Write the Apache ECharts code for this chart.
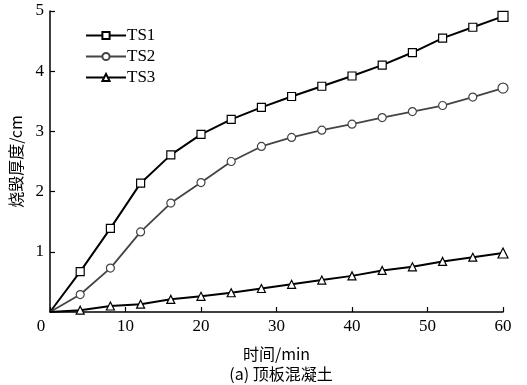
<!DOCTYPE html>
<html>
<head>
<meta charset="utf-8">
<script src="https://cdn.jsdelivr.net/npm/echarts@6/dist/echarts.min.js"></script>
<style>
  html, body { margin: 0; padding: 0; background: #fff; }
  #chart { width: 527px; height: 385px; }
</style>
</head>
<body>
<div id="chart"></div>
<script>
// 时间/min
const times = [0, 4, 8, 12, 16, 20, 24, 28, 32, 36, 40, 44, 48, 52, 56, 60];
// 烧毁厚度/cm
const ts1 = [0, 0.67, 1.39, 2.14, 2.61, 2.95, 3.20, 3.40, 3.58, 3.75, 3.92, 4.10, 4.31, 4.55, 4.73, 4.91];
const ts2 = [0, 0.29, 0.73, 1.33, 1.81, 2.15, 2.50, 2.75, 2.90, 3.02, 3.12, 3.23, 3.33, 3.43, 3.57, 3.72];
const ts3 = [0, 0.03, 0.10, 0.13, 0.21, 0.26, 0.32, 0.39, 0.46, 0.53, 0.60, 0.69, 0.75, 0.84, 0.91, 0.98];
const seriesNames = ['TS1', 'TS2', 'TS3'];

const serif = '"Liberation Serif", "DejaVu Serif", serif';
const cjk = '"Noto Sans CJK SC", "Liberation Serif", serif';

const myChart = echarts.init(document.getElementById('chart'));

const makeSeries = (name, values, symbol, color, width) => ({
  name,
  type: 'line',
  data: times.map((t, i) => [t, values[i]]),
  symbol,
  // 原点不画标记，最后一个点稍大
  symbolSize: (val, params) => {
    if (params.dataIndex === 0) return 0;
    return params.dataIndex === times.length - 1 ? 10 : 8;
  },
  showSymbol: true,
  lineStyle: { color, width },
  itemStyle: { color: '#fff', borderColor: color, borderWidth: 1.2 },
  emphasis: { disabled: true },
  animation: false,
});

const option = {
  backgroundColor: '#fff',
  animation: false,
  grid: { left: 49, right: 24, top: 11, bottom: 73 },
  title: {
    text: '(a) 顶板混凝土',
    left: 276,
    top: 361,
    textAlign: 'center',
    textStyle: { fontFamily: cjk, fontSize: 16, fontWeight: 'normal', color: '#000' },
  },
  legend: {
    orient: 'vertical',
    left: 80,
    top: 22,
    itemWidth: 40,
    itemHeight: 9,
    itemGap: 4,
    data: seriesNames,
    textStyle: { fontFamily: serif, fontSize: 17, color: '#000', padding: [0, 0, 0, -4] },
  },
  xAxis: {
    type: 'value',
    min: 0,
    max: 60,
    interval: 10,
    name: '时间/min',
    nameLocation: 'middle',
    nameGap: 34,
    nameTextStyle: { fontFamily: cjk, fontSize: 16, color: '#000' },
    axisLine: { lineStyle: { color: '#000', width: 1.5 } },
    axisTick: { inside: true, length: 5, lineStyle: { color: '#000', width: 1.2 } },
    axisLabel: {
      fontFamily: serif,
      fontSize: 17,
      color: '#000',
      margin: 6,
      formatter: (v) => (v === 0 ? '{z|0}' : String(v)),
      rich: { z: { fontFamily: serif, fontSize: 17, color: '#000', padding: [0, 18, 0, 0] } },
    },
    splitLine: { show: false },
  },
  yAxis: {
    type: 'value',
    min: 0,
    max: 5,
    interval: 1,
    name: '烧毁厚度/cm',
    nameLocation: 'middle',
    nameGap: 26,
    nameTextStyle: { fontFamily: cjk, fontSize: 16, color: '#000' },
    axisLine: { show: true, lineStyle: { color: '#000', width: 1.5 } },
    axisTick: { show: true, inside: true, length: 5, lineStyle: { color: '#000', width: 1.2 } },
    axisLabel: { fontFamily: serif, fontSize: 17, color: '#000', margin: 6, showMinLabel: false },
    splitLine: { show: false },
  },
  series: [
    makeSeries('TS1', ts1, 'rect', '#000', 2),
    makeSeries('TS2', ts2, 'circle', '#444', 1.8),
    makeSeries('TS3', ts3, 'triangle', '#000', 2),
  ],
};

myChart.setOption(option);
</script>
</body>
</html>
